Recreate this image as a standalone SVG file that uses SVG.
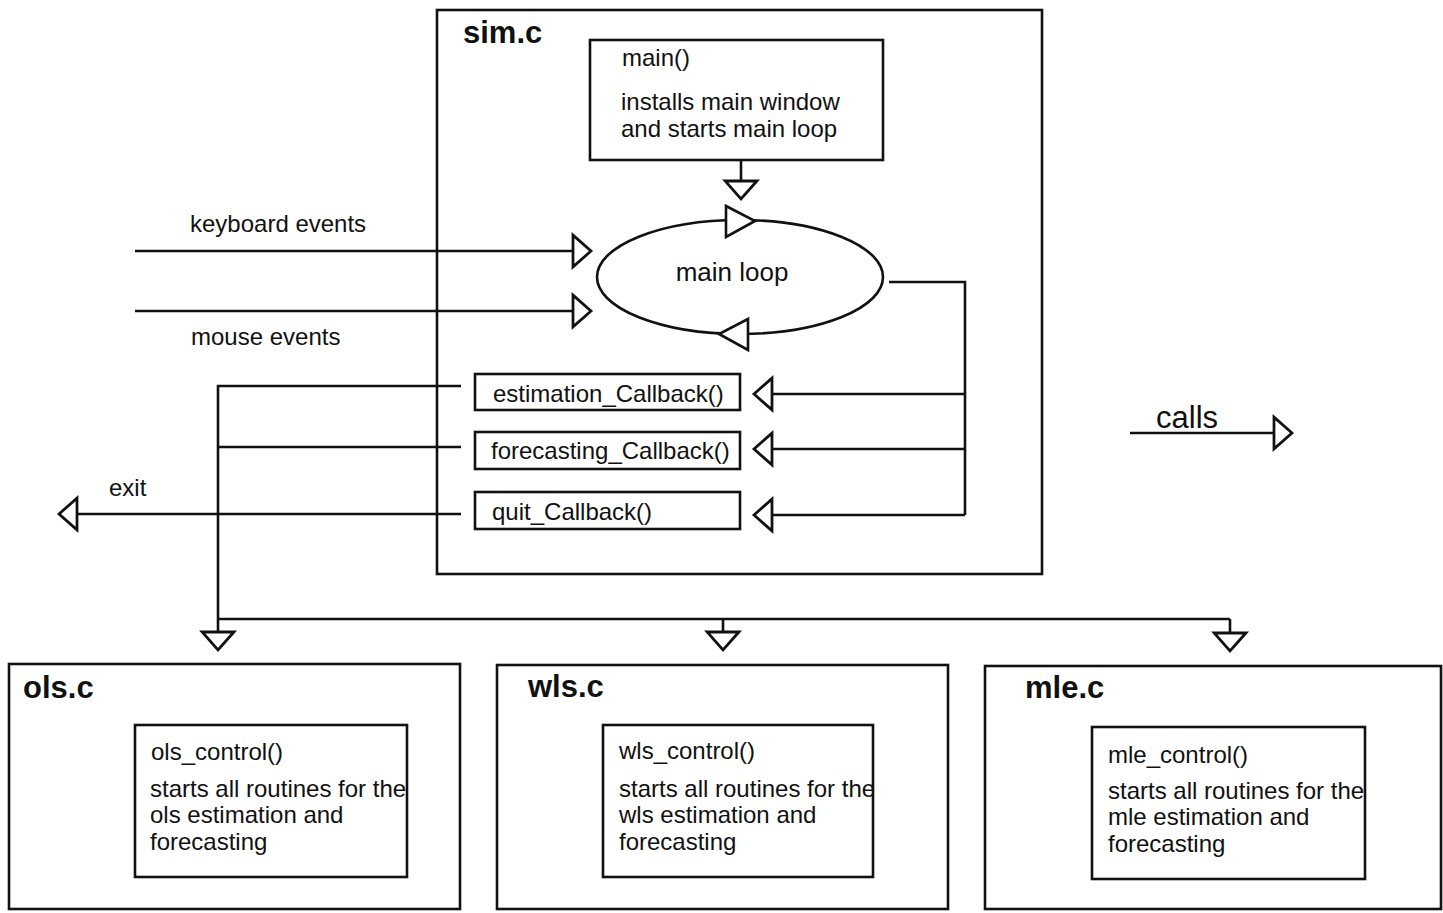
<svg xmlns="http://www.w3.org/2000/svg" width="1443" height="913" viewBox="0 0 1443 913">
  <style>
    .box { fill: none; stroke: #111; stroke-width: 2.6; }
    .ln { fill: none; stroke: #111; stroke-width: 2.6; }
    .head { fill: #fff; stroke: #111; stroke-width: 2.6; stroke-linejoin: miter; }
    text { font-family: "Liberation Sans", Arial, sans-serif; fill: #111; }
    .t { font-size: 24px; }
    .title { font-size: 31px; font-weight: bold; }
    .big { font-size: 26px; }
  </style>
  <defs>
    <!-- open triangular arrowhead, tip at the line end -->
    <marker id="tri" markerUnits="userSpaceOnUse" markerWidth="24" markerHeight="36" viewBox="-2 -17 22 34" refX="17" refY="0" orient="auto" overflow="visible">
      <path d="M0,-15 L17,0 L0,15 Z" class="head"/>
    </marker>
  </defs>

  <rect width="1443" height="913" fill="#fff"/>

  <!-- sim.c module -->
  <g id="sim">
    <rect class="box" x="437" y="10" width="605" height="564"/>
    <text class="title" x="463" y="43">sim.c</text>
  </g>

  <g id="main">
    <rect class="box" x="590" y="40" width="293" height="120"/>
    <text class="t" x="622" y="66">main()</text>
    <text class="t" x="621" y="110">installs main window</text>
    <text class="t" x="621" y="137">and starts main loop</text>
  </g>

  <g id="mainloop">
    <ellipse class="box" cx="740" cy="277" rx="143" ry="57"/>
    <text class="big" x="732" y="281" text-anchor="middle">main loop</text>
    <path class="head" d="M726,206 L726,237 L755,221 Z"/>
    <path class="head" d="M748,319 L748,350 L719,334 Z"/>
  </g>

  <g id="estimation">
    <rect class="box" x="475" y="374" width="265" height="36"/>
    <text class="t" x="493" y="402">estimation_Callback()</text>
  </g>
  <g id="forecasting">
    <rect class="box" x="475" y="432" width="265" height="37"/>
    <text class="t" x="491" y="459">forecasting_Callback()</text>
  </g>
  <g id="quit">
    <rect class="box" x="475" y="492" width="265" height="37"/>
    <text class="t" x="492" y="520">quit_Callback()</text>
  </g>

  <!-- estimation modules -->
  <g id="ols">
    <rect class="box" x="9" y="664" width="451" height="245"/>
    <text class="title" x="23" y="698">ols.c</text>
    <rect class="box" x="135" y="725" width="272" height="152"/>
    <text class="t" x="151" y="760">ols_control()</text>
    <text class="t" x="150" y="797">starts all routines for the</text>
    <text class="t" x="150" y="823">ols estimation and</text>
    <text class="t" x="150" y="850">forecasting</text>
  </g>
  <g id="wls">
    <rect class="box" x="497" y="665" width="451" height="244"/>
    <text class="title" x="528" y="697">wls.c</text>
    <rect class="box" x="603" y="725" width="270" height="152"/>
    <text class="t" x="619" y="759">wls_control()</text>
    <text class="t" x="619" y="797">starts all routines for the</text>
    <text class="t" x="619" y="823">wls estimation and</text>
    <text class="t" x="619" y="850">forecasting</text>
  </g>
  <g id="mle">
    <rect class="box" x="985" y="666" width="456" height="243"/>
    <text class="title" x="1025" y="698">mle.c</text>
    <rect class="box" x="1092" y="727" width="273" height="152"/>
    <text class="t" x="1108" y="763">mle_control()</text>
    <text class="t" x="1108" y="799">starts all routines for the</text>
    <text class="t" x="1108" y="825">mle estimation and</text>
    <text class="t" x="1108" y="852">forecasting</text>
  </g>

  <!-- legend -->
  <g id="legend">
    <text class="title" style="font-weight:normal" x="1156" y="428">calls</text>
    <line class="ln" x1="1130" y1="433" x2="1292" y2="433" marker-end="url(#tri)"/>
  </g>

  <!-- connectors -->
  <g id="connectors">
    <line class="ln" x1="741" y1="160" x2="741" y2="199" marker-end="url(#tri)"/>
    <line class="ln" x1="135" y1="251" x2="591" y2="251" marker-end="url(#tri)"/>
    <line class="ln" x1="135" y1="311" x2="591" y2="311" marker-end="url(#tri)"/>
    <text class="t" x="190" y="232">keyboard events</text>
    <text class="t" x="191" y="345">mouse events</text>

    <polyline class="ln" points="889,282 965,282 965,515"/>
    <line class="ln" x1="965" y1="394" x2="754" y2="394" marker-end="url(#tri)"/>
    <line class="ln" x1="965" y1="449" x2="754" y2="449" marker-end="url(#tri)"/>
    <line class="ln" x1="965" y1="515" x2="754" y2="515" marker-end="url(#tri)"/>

    <polyline class="ln" points="461,386 218,386 218,650" marker-end="url(#tri)"/>
    <line class="ln" x1="461" y1="447" x2="218" y2="447"/>
    <line class="ln" x1="461" y1="514" x2="59" y2="514" marker-end="url(#tri)"/>
    <text class="t" x="109" y="496">exit</text>

    <line class="ln" x1="218" y1="619" x2="1230" y2="619"/>
    <line class="ln" x1="723" y1="619" x2="723" y2="650" marker-end="url(#tri)"/>
    <line class="ln" x1="1230" y1="619" x2="1230" y2="651" marker-end="url(#tri)"/>
  </g>
</svg>
